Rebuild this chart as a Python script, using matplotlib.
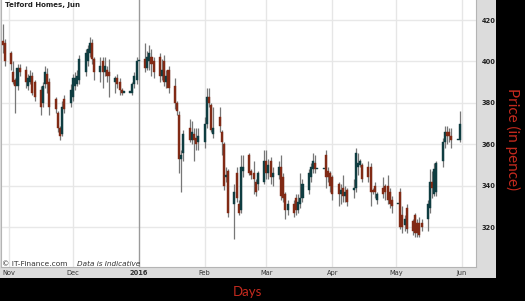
import matplotlib
matplotlib.use("Agg")
import matplotlib.pyplot as plt
import matplotlib.dates as mdates
from matplotlib.patches import Rectangle
import pandas as pd
import numpy as np

# daily prices (pence), one entry per weekday 29 Oct 2015 - 31 May 2016
opens = [
    410, 409,  # Oct
    404, 395, 391, 388, 397, 396, 388, 390, 393, 390, 386, 380, 389, 394, 390, 382, 375, 368, 365, 382, 380,
    383, 388, 389, 391, 395, 400, 404, 409, 401, 395, 400, 395, 396, 395, 390, 392, 390, 386, 385, 385, 385, 389, 391,
    400, 401, 397, 400, 402, 400, 402, 393, 400, 390, 396, 388, 380, 374, 353, 356, 368, 362, 365, 363, 361,
    361, 370, 383, 379, 365, 373, 366, 360, 344, 347, 331, 346, 331, 328, 347, 355, 347, 346, 342, 341, 342,
    352, 346, 352, 344, 345, 349, 344, 336, 328, 331, 334, 328, 331, 334, 338, 344, 348, 351, 348, 348, 355, 347, 346,
    344, 341, 336, 339, 335, 338, 338, 339, 349, 350, 350, 349, 349, 338, 340, 333, 339, 340, 340, 337, 333,
    331, 337, 326, 321, 329, 323, 326, 322, 322, 322, 324, 329, 342, 336, 337, 352, 361, 366, 366, 364, 362, 362,
]
highs = [
    418, 411,
    405, 400, 392, 399, 399, 398, 394, 396, 395, 391, 388, 390, 398, 397, 392, 383, 376, 369, 381, 384, 389,
    394, 395, 396, 403, 406, 408, 412, 411, 402, 402, 402, 402, 398, 401, 393, 394, 392, 387, 385, 385, 390, 395, 402,
    400, 409, 405, 408, 406, 402, 404, 401, 403, 396, 398, 392, 381, 376, 357, 367, 372, 371, 368, 368, 368,
    373, 387, 387, 380, 378, 378, 367, 361, 349, 348, 341, 349, 333, 355, 355, 356, 348, 352, 343, 347, 357,
    357, 353, 354, 349, 352, 355, 346, 337, 333, 333, 336, 336, 346, 343, 348, 351, 356, 355, 348, 348, 357, 349, 347,
    345, 342, 341, 345, 340, 339, 343, 358, 356, 353, 351, 352, 351, 339, 342, 337, 344, 341, 345, 339, 335,
    331, 339, 330, 326, 331, 324, 327, 324, 325, 324, 333, 348, 347, 351, 352, 363, 369, 369, 368, 368, 362, 376,
]
lows = [
    404, 398,
    396, 389, 375, 386, 393, 387, 386, 389, 384, 381, 374, 378, 387, 385, 374, 375, 366, 362, 364, 375, 378,
    381, 386, 388, 389, 393, 398, 402, 399, 391, 390, 387, 393, 390, 383, 385, 387, 384, 384, 385, 385, 384, 387, 389,
    400, 395, 396, 396, 393, 392, 390, 391, 388, 387, 385, 377, 374, 346, 337, 352, 361, 360, 352, 357, 357,
    358, 368, 378, 366, 363, 366, 355, 338, 342, 325, 314, 332, 326, 327, 344, 345, 343, 336, 335, 338, 341,
    343, 343, 341, 340, 343, 333, 332, 324, 326, 325, 326, 327, 329, 332, 336, 342, 346, 346, 348, 348, 339, 342, 337,
    333, 330, 331, 332, 332, 330, 334, 337, 345, 349, 342, 342, 330, 336, 334, 331, 334, 333, 331, 329, 327,
    331, 319, 317, 318, 317, 316, 315, 315, 315, 318, 318, 327, 334, 335, 335, 349, 358, 360, 361, 358, 362, 361,
]
closes = [
    408, 400,
    399, 390, 388, 397, 395, 390, 392, 393, 385, 383, 378, 388, 395, 389, 378, 377, 368, 364, 378, 377, 386,
    392, 392, 393, 401, 404, 406, 409, 401, 395, 398, 395, 398, 393, 393, 392, 389, 386, 385, 385, 385, 389, 393, 400,
    400, 397, 402, 404, 399, 395, 393, 396, 390, 393, 387, 380, 376, 353, 355, 365, 362, 366, 362, 360, 364,
    370, 383, 380, 367, 368, 369, 361, 340, 345, 327, 337, 334, 327, 349, 349, 346, 345, 343, 337, 346, 352,
    346, 350, 344, 346, 349, 335, 334, 328, 331, 327, 328, 332, 334, 341, 346, 349, 352, 348, 348, 348, 344, 344, 340,
    336, 336, 338, 335, 337, 332, 339, 356, 351, 352, 343, 344, 337, 337, 337, 336, 336, 337, 333, 331, 330,
    331, 320, 320, 324, 319, 318, 317, 317, 316, 320, 331, 342, 339, 348, 351, 361, 366, 364, 364, 362, 362, 370,
]

month_starts = ["2015-11-01", "2015-12-01", "2016-01-01", "2016-02-01",
                "2016-03-01", "2016-04-01", "2016-05-01", "2016-06-01"]
month_labels = ["Nov", "Dec", "2016", "Feb", "Mar", "Apr", "May", "Jun"]
price_ticks = [320, 340, 360, 380, 400, 420]

UP = "#0f3d41"
DOWN = "#812a15"
W, H = 525, 301

fig = plt.figure(figsize=(W / 100, H / 100), dpi=100, facecolor="black")
# light grey chart panel behind the plot area
fig.patches.append(Rectangle((0, 1 - 278 / H), 496 / W, 278 / H, transform=fig.transFigure,
                             facecolor="#dcdcdc", edgecolor="none", zorder=-5))

ax = fig.add_axes([1 / W, 1 - 267 / H, 475 / W, 267 / H])
ax.set_zorder(2)
ax.set_facecolor("white")

dates = pd.bdate_range("2015-10-29", "2016-05-31")
x = mdates.date2num(dates)
o = np.array(opens, dtype=float)
h = np.array(highs, dtype=float)
l = np.array(lows, dtype=float)
c = np.array(closes, dtype=float)

ticks_x = mdates.date2num(pd.to_datetime(month_starts))
px_day = 453 / (ticks_x[-1] - ticks_x[0])
ax.set_xlim(ticks_x[0] - 8 / px_day, ticks_x[0] + 467 / px_day)
ax.set_ylim(300.7, 429.7)

# grid
for yv in price_ticks:
    ax.axhline(yv, color="#e8e8e8", lw=1.0, zorder=1)
for tx, lab in zip(ticks_x, month_labels):
    if lab == "2016":
        ax.axvline(tx, color="#9a9a9a", lw=1.0, zorder=1)
    else:
        ax.axvline(tx, color="#e6e6e6", lw=1.0, zorder=1)

# candles
ax.vlines(x, l, h, color="#777777", lw=0.9, zorder=2)
colors = np.where(c >= o, UP, DOWN)
bottoms = np.minimum(o, c)
heights = np.maximum(np.abs(c - o), 0.5)
ax.bar(x, heights, bottom=bottoms, width=0.95, color=colors, edgecolor=colors,
       linewidth=0.3, zorder=3)

# axes styling
for side in ["left", "right", "bottom"]:
    ax.spines[side].set_color("#b4b4b4")
    ax.spines[side].set_linewidth(0.8)
ax.spines["top"].set_visible(False)

ax.set_yticks(price_ticks)
ax.yaxis.tick_right()
ax.tick_params(axis="y", length=0, pad=4, labelsize=4.8, labelcolor="#222222")
for lab in ax.get_yticklabels():
    lab.set_fontweight("bold")

ax.set_xticks(ticks_x)
ax.set_xticklabels(month_labels)
ax.tick_params(axis="x", length=0, pad=2.2, labelsize=4.8, labelcolor="#333333")
for lab in ax.get_xticklabels():
    if lab.get_text() == "2016":
        lab.set_fontweight("bold")

# texts
fig.text(5 / W, 1 - 5.5 / H, "Telford Homes, Jun", fontsize=5, fontweight="bold",
         color="#222222", ha="left", va="center", zorder=5)
fig.text(2 / W, 1 - 264 / H, "© IT-Finance.com", fontsize=5.4, color="#333333",
         ha="left", va="center", zorder=5)
fig.text(77 / W, 1 - 264 / H, "Data is Indicative", fontsize=5.2, style="italic",
         color="#333333", ha="left", va="center", zorder=5)
fig.text(513 / W, 1 - 139 / H, "Price (in pence)", rotation=-90, fontsize=11,
         family="Lato", color="#c42a1e", ha="center", va="center")
fig.text(247 / W, 1 - 292 / H, "Days", fontsize=9.5, family="Lato", color="#c42a1e",
         ha="center", va="center")

fig.savefig("out.png", dpi=100, facecolor="black")
